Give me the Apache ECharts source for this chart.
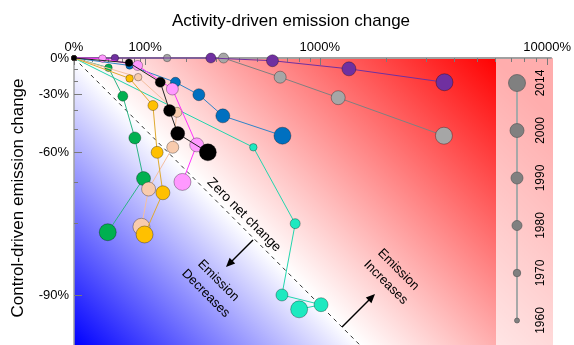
<!DOCTYPE html>
<html><head><meta charset="utf-8">
<script src="https://cdn.jsdelivr.net/npm/echarts@6/dist/echarts.min.js"></script>
<style>html,body{margin:0;padding:0;background:#fff}#c{width:574px;height:345px}</style>
</head><body><div id="c"></div>
<script>
// ---- data (activity-driven % change, control-driven % change), years 1960..2014 ----
const years = ['1960', '1970', '1980', '1990', '2000', '2014'];
const purpleAct = [0, 49, 280, 593, 1361, 3610];
const purpleCtl = [0, 0, 0, -2.6, -10, -21];
const grayAct = [0, 148, 330, 647, 1216, 3590];
const grayCtl = [0, 0, 0, -17, -32, -53];
const tealAct = [0, 475, 765, 660, 1013, 799];
const tealCtl = [0, -58, -80, -90, -90.9, -91.3];
const blueAct = [0, 72, 169, 238, 327, 664];
const blueCtl = [0, -7, -21, -30, -43, -53];
const greenAct = [0, 40, 61, 81, 97, 39];
const greenCtl = [0, -9, -31, -54, -69, -81.6];
const peachAct = [0, 87, 173, 162, 107, 93];
const peachCtl = [0, -17, -41, -58, -72, -80.6];
const orangeAct = [0, 72, 116, 125, 138, 99];
const orangeCtl = [0, -18, -37, -60, -73, -82];
const pinkAct = [0, 32, 86, 161, 231, 188];
const pinkCtl = [0, -0.5, -7, -26, -57, -70];
const blackAct = [0, 71, 132, 154, 175, 269];
const blackCtl = [0, -4.5, -21, -40, -52, -60];
const zeroLineAct = [0, 2000];
const xMajorTicks = [0, 100, 1000, 10000];
const xMinorTicks = [10, 20, 30, 40, 50, 60, 70, 80, 90, 200, 300, 400, 500, 600, 700, 800, 900,
  2000, 3000, 4000, 5000, 6000, 7000, 8000, 9000];
const yMajorTicks = [0, -30, -60, -90];
const yMinorTicks = [-10, -20, -40, -50, -70, -80];
const yearSizes = [5, 7.5, 10, 12, 14, 17];

// ---- transforms ----
const tx = a => Math.log10(1 + a / 100);
const ty = c => Math.log10(1 + c / 100);
const XMAX = 2.021, YMIN = -1.211;

const FONT = 'Liberation Sans, Arial, Helvetica, sans-serif';
const chart = echarts.init(document.getElementById('c'), null, {renderer: 'canvas'});

const seriesDefs = [
  {name: 'gray', act: grayAct, ctl: grayCtl, fill: '#A6A6A6', line: '#808080'},
  {name: 'purple', act: purpleAct, ctl: purpleCtl, fill: '#7030A0', line: '#7030A0'},
  {name: 'teal', act: tealAct, ctl: tealCtl, fill: '#1DE9C0', line: '#22D6AE'},
  {name: 'blue', act: blueAct, ctl: blueCtl, fill: '#0070C0', line: '#2E84C8'},
  {name: 'green', act: greenAct, ctl: greenCtl, fill: '#00B050', line: '#2DB486'},
  {name: 'peach', act: peachAct, ctl: peachCtl, fill: '#F8CBAD', line: '#F4BFA0'},
  {name: 'orange', act: orangeAct, ctl: orangeCtl, fill: '#FFC000', line: '#E0AA30'},
  {name: 'pink', act: pinkAct, ctl: pinkCtl, fill: '#FF99FF', line: '#FF33FF'},
  {name: 'black', act: blackAct, ctl: blackCtl, fill: '#000000', line: '#222222'}
];

const series = [];
series.push({
  type: 'line', name: 'zero', xAxisIndex: 0, yAxisIndex: 0,
  data: zeroLineAct.map(a => [tx(a), -tx(a)]),
  symbol: 'none', silent: true, clip: true, z: 1,
  lineStyle: {color: '#333', width: 1, type: [4, 4]}
});
seriesDefs.forEach((s, si) => {
  series.push({
    type: 'line', name: s.name, xAxisIndex: 0, yAxisIndex: 0,
    data: s.act.map((a, i) => [tx(a), ty(s.ctl[i])]),
    symbol: 'circle', showSymbol: true, clip: false, z: 2 + si * 0.01,
    symbolSize: (v, p) => yearSizes[p.dataIndex],
    lineStyle: {color: s.line, width: 1},
    itemStyle: {color: s.fill, borderColor: 'rgba(0,0,0,0.45)', borderWidth: 0.7},
    emphasis: {disabled: true}
  });
});
series.push({
  type: 'line', name: 'legend', xAxisIndex: 2, yAxisIndex: 2,
  data: years.map(y => [0, y]),
  symbol: 'circle', clip: false,
  symbolSize: (v, p) => yearSizes[p.dataIndex],
  lineStyle: {color: '#A8A8A8', width: 2},
  itemStyle: {color: '#808080', borderColor: '#5a5a5a', borderWidth: 0.7},
  emphasis: {disabled: true}
});

const pctLabel = v => Math.round((Math.pow(10, v) - 1) * 100) + '%';

chart.setOption({
  animation: false,
  textStyle: {fontFamily: FONT},
  grid: [
    {left: 74, top: 58, width: 479, height: 287},
    {left: 505, top: 83, width: 24, height: 237.5}
  ],
  xAxis: [
    {gridIndex: 0, type: 'value', position: 'top', min: 0, max: XMAX,
      axisLine: {show: true, onZero: false, lineStyle: {color: '#A0A0A0', width: 2}},
      axisTick: {show: true, inside: true, length: 7, customValues: xMajorTicks.map(tx), lineStyle: {color: '#7a7a7a', width: 1}},
      axisLabel: {show: true, customValues: xMajorTicks.map(tx), formatter: pctLabel, margin: 4, fontSize: 13, color: '#000', fontFamily: FONT},
      splitLine: {show: false}},
    {gridIndex: 0, type: 'value', position: 'top', min: 0, max: XMAX,
      axisLine: {show: false},
      axisTick: {show: true, inside: true, length: 4, customValues: xMinorTicks.map(tx), lineStyle: {color: '#7a7a7a', width: 1}},
      axisLabel: {show: false}, splitLine: {show: false}},
    {gridIndex: 1, type: 'value', min: -1, max: 1, show: false}
  ],
  yAxis: [
    {gridIndex: 0, type: 'value', position: 'left', min: YMIN, max: 0,
      axisLine: {show: true, onZero: false, lineStyle: {color: '#A0A0A0', width: 1.5}},
      axisTick: {show: true, inside: true, length: 8, customValues: yMajorTicks.map(ty), lineStyle: {color: '#7a7a7a', width: 1}},
      axisLabel: {show: true, customValues: yMajorTicks.map(ty), formatter: pctLabel, margin: 5, fontSize: 13, color: '#000', fontFamily: FONT},
      splitLine: {show: false}},
    {gridIndex: 0, type: 'value', position: 'left', min: YMIN, max: 0,
      axisLine: {show: false},
      axisTick: {show: true, inside: true, length: 4, customValues: yMinorTicks.map(ty), lineStyle: {color: '#7a7a7a', width: 1}},
      axisLabel: {show: false}, splitLine: {show: false}},
    {gridIndex: 1, type: 'category', data: years, boundaryGap: false, position: 'right',
      axisLine: {show: false}, axisTick: {show: false}, splitLine: {show: false},
      axisLabel: {show: true, rotate: 90, margin: 6, fontSize: 12, color: '#000', fontFamily: FONT}}
  ],
  series: series,
  graphic: [
    {type: 'rect', z: -2, silent: true, shape: {x: 74, y: 58, width: 479, height: 287},
      style: {fill: {type: 'linear', x: 74, y: 345, x2: 429, y2: -10, global: true,
        colorStops: [{offset: 0, color: '#0000FF'}, {offset: 0.404, color: '#FFFFFF'}, {offset: 1, color: '#FF0000'}]}}},
    {type: 'rect', z: -1, silent: true, shape: {x: 496, y: 58, width: 57, height: 287},
      style: {fill: 'rgba(255,255,255,0.68)'}},
    {type: 'text', x: 291, y: 21, z: 10, silent: true,
      style: {text: 'Activity-driven emission change', font: '17px ' + FONT, fill: '#000', align: 'center', verticalAlign: 'middle'}},
    {type: 'text', x: 18, y: 198, rotation: Math.PI / 2, z: 10, silent: true,
      style: {text: 'Control-driven emission change', font: '17px ' + FONT, fill: '#000', align: 'center', verticalAlign: 'middle'}},
    {type: 'text', x: 244, y: 215, rotation: -Math.PI / 4, z: 10, silent: true,
      style: {text: 'Zero net change', font: '13.5px ' + FONT, fill: '#000', align: 'center', verticalAlign: 'middle'}},
    {type: 'text', x: 212, y: 287, rotation: -Math.PI / 4, z: 10, silent: true,
      style: {text: 'Emission\nDecreases', font: '13px ' + FONT, fill: '#000', align: 'center', verticalAlign: 'middle', lineHeight: 18}},
    {type: 'text', x: 392, y: 276, rotation: -Math.PI / 4, z: 10, silent: true,
      style: {text: 'Emission\nIncreases', font: '13px ' + FONT, fill: '#000', align: 'center', verticalAlign: 'middle', lineHeight: 18}},
    {type: 'line', z: 10, silent: true, shape: {x1: 253, y1: 240, x2: 229, y2: 264}, style: {stroke: '#000', lineWidth: 1.5}},
    {type: 'polygon', z: 10, silent: true, shape: {points: [[226, 267], [235.2, 263.4], [229.6, 257.8]]}, style: {fill: '#000'}},
    {type: 'line', z: 10, silent: true, shape: {x1: 342, y1: 327, x2: 372, y2: 297}, style: {stroke: '#000', lineWidth: 1.5}},
    {type: 'polygon', z: 10, silent: true, shape: {points: [[375, 294], [371.4, 303.2], [365.8, 297.6]]}, style: {fill: '#000'}}
  ]
});
</script></body></html>
